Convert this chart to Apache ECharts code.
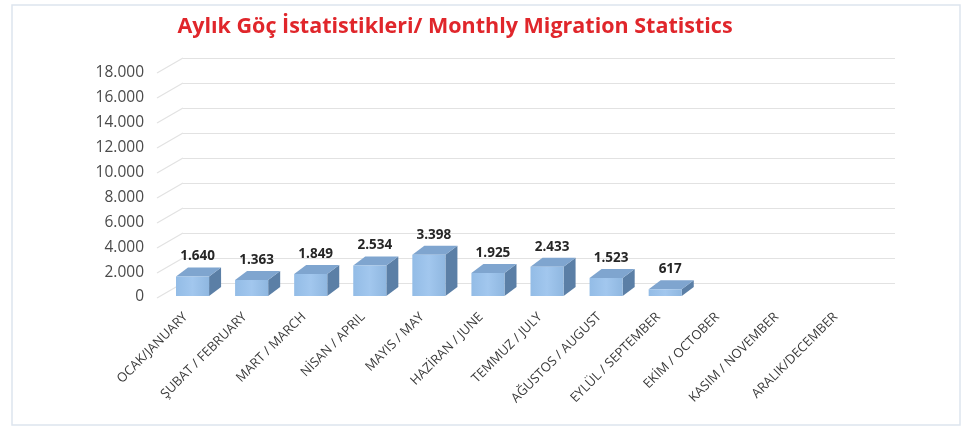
<!DOCTYPE html>
<html lang="tr">
<head>
    <meta charset="UTF-8">
    <title>Aylık Göç İstatistikleri</title>
    <script src="https://cdn.jsdelivr.net/npm/echarts@6/dist/echarts.min.js"></script>
    <style>
        body { margin: 0; background: #fff; }
        #chart { width: 962px; height: 432px; }
    </style>
</head>
<body>
<div id="chart"></div>
<script>
    var months = ['OCAK/JANUARY', 'ŞUBAT / FEBRUARY', 'MART / MARCH', 'NİSAN / APRIL', 'MAYIS / MAY',
        'HAZİRAN / JUNE', 'TEMMUZ / JULY', 'AĞUSTOS / AUGUST', 'EYLÜL / SEPTEMBER',
        'EKİM / OCTOBER', 'KASIM / NOVEMBER', 'ARALIK/DECEMBER'];
    var migrants = [1640, 1363, 1849, 2534, 3398, 1925, 2433, 1523, 617, null, null, null];
    var yTicks = [0, 2000, 4000, 6000, 8000, 10000, 12000, 14000, 16000, 18000];

    // thousands with dot separator, as in the original
    function fmt(v) {
        return String(v).replace(/\B(?=(\d{3})+(?!\d))/g, '.');
    }

    var myChart = echarts.init(document.getElementById('chart'));

    var option = {
        backgroundColor: '#fff',
        title: {
            text: 'Aylık Göç İstatistikleri/ Monthly Migration Statistics',
            left: 450,
            textAlign: 'center',
            top: 11,
            textStyle: {
                color: '#e0262b',
                fontFamily: 'Open Sans',
                fontWeight: 'bold',
                fontSize: 21.5
            }
        },
        graphic: [{
            type: 'rect',
            shape: { x: 12, y: 5, width: 948, height: 420 },
            style: { fill: 'none', stroke: '#dde5ee', lineWidth: 1.5 },
            silent: true
        }],
        grid: [
            { left: 166, right: 87, top: 73, bottom: 135 },
            // back wall for the pseudo 3D gridlines
            { left: 183, right: 67, top: 58, bottom: 149 }
        ],
        xAxis: [{
            type: 'category',
            data: months,
            gridIndex: 0,
            axisLine: { show: false },
            axisTick: { show: false },
            axisLabel: {
                interval: 0,
                rotate: 45,
                margin: 8,
                padding: [0, 14, 0, 0],
                color: '#3a3a3a',
                fontFamily: 'Open Sans',
                fontSize: 13
            }
        }, {
            type: 'category',
            data: months,
            gridIndex: 1,
            show: false
        }],
        yAxis: [{
            type: 'value',
            gridIndex: 0,
            min: yTicks[0],
            max: yTicks[yTicks.length - 1],
            interval: 2000,
            axisLine: { show: false },
            axisTick: { show: false },
            splitLine: { show: false },
            axisLabel: {
                margin: 22,
                color: '#4a4a4a',
                fontFamily: 'Open Sans',
                fontSize: 15.5,
                formatter: fmt
            }
        }, {
            type: 'value',
            gridIndex: 1,
            min: yTicks[0],
            max: yTicks[yTicks.length - 1],
            interval: 2000,
            axisLine: { show: false },
            axisTick: { show: false },
            axisLabel: { show: false },
            splitLine: { lineStyle: { color: '#e2e2e2', width: 1.2 } }
        }],
        series: [{
            // slanted side-wall lines joining the tick labels to the back gridlines
            type: 'custom',
            xAxisIndex: 1,
            yAxisIndex: 1,
            silent: true,
            data: yTicks.map(function (t) { return [0, t]; }),
            renderItem: function (params, api) {
                var p = api.coord([0, api.value(1)]);
                var x = p[0] - api.size([1, 0])[0] / 2;
                return {
                    type: 'line',
                    shape: { x1: x - 26, y1: p[1] + 15, x2: x, y2: p[1] },
                    style: { stroke: '#e2e2e2', lineWidth: 1.2 }
                };
            }
        }, {
            type: 'custom',
            xAxisIndex: 0,
            yAxisIndex: 0,
            data: migrants,
            renderItem: function (params, api) {
                var v = api.value(1);
                if (v == null || isNaN(v)) return;
                var top = api.coord([api.value(0), v]);
                var base = api.coord([api.value(0), 0]);
                var w = api.size([1, 0])[0] * 0.56;
                var dx = 12, dy = -9;
                var x0 = top[0] - w / 2 - 3, x1 = x0 + w;
                var y0 = top[1], y1 = base[1] - 1;
                return {
                    type: 'group',
                    children: [{
                        type: 'polygon',
                        shape: { points: [[x1, y0], [x1 + dx, y0 + dy], [x1 + dx, y1 + dy], [x1, y1]] },
                        style: { fill: '#5b7fa6' }
                    }, {
                        type: 'polygon',
                        shape: { points: [[x0, y0], [x0 + dx, y0 + dy], [x1 + dx, y0 + dy], [x1, y0]] },
                        style: { fill: '#7fa5cf' }
                    }, {
                        type: 'rect',
                        shape: { x: x0, y: y0, width: w, height: y1 - y0 },
                        style: {
                            fill: new echarts.graphic.LinearGradient(0, 0, 1, 0, [
                                { offset: 0, color: '#93bce6' },
                                { offset: 0.5, color: '#a2c7ee' },
                                { offset: 1, color: '#8fb7e0' }
                            ])
                        }
                    }, {
                        type: 'text',
                        style: {
                            text: fmt(v),
                            x: top[0] + 2,
                            y: y0 + dy - 4,
                            align: 'center',
                            verticalAlign: 'bottom',
                            fill: '#262626',
                            font: 'bold 13.5px "Open Sans"'
                        }
                    }]
                };
            }
        }]
    };

    myChart.setOption(option);
</script>
</body>
</html>
